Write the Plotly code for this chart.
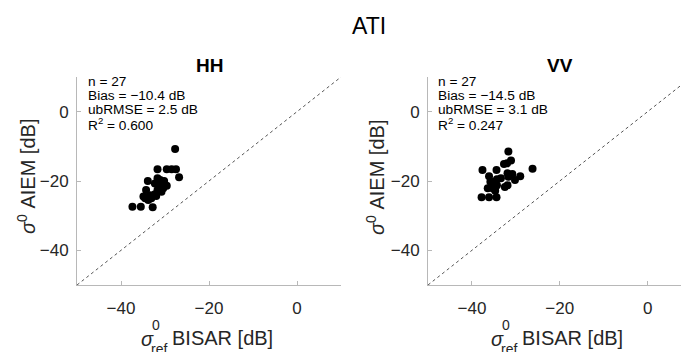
import plotly.graph_objects as go

# ---------------- data ----------------
hh_ref = [-27.7, -31.7, -29.6, -28.5, -27.5, -26.8, -33.9, -31.7, -30.2, -32.3, -31.1, -29.6, -34.3, -31.7,
          -30.8, -32.3, -33.4, -34.5, -33.8, -34.9, -37.4, -35.5, -32.8, -31.1, -30.4, -32.0, -33.1]
hh_aiem = [-10.8, -16.6, -16.6, -16.6, -16.6, -18.9, -20.0, -19.2, -20.0, -20.7, -21.2, -21.4, -22.6, -22.6,
           -23.1, -23.8, -24.1, -25.0, -25.5, -24.5, -27.4, -27.4, -27.6, -19.7, -22.1, -24.3, -25.0]
vv_ref = [-31.7, -31.1, -32.0, -32.7, -26.2, -37.6, -34.4, -31.9, -30.8, -36.1, -29.0, -31.7, -34.3, -30.2,
          -35.8, -34.9, -31.9, -32.5, -34.5, -34.3, -36.4, -35.3, -34.7, -37.8, -36.1, -34.4, -33.4]
vv_aiem = [-11.5, -14.1, -14.9, -15.1, -16.5, -16.8, -16.8, -17.8, -18.0, -18.6, -18.6, -18.8, -19.5, -19.7,
           -20.2, -20.2, -21.2, -21.7, -21.4, -21.2, -22.1, -22.1, -22.8, -24.7, -24.7, -24.7, -19.2]
one_to_one = [-50, 10]
tick_vals = [-40, -20, 0]
hh_stats = ["n = 27", "Bias = \u221210.4 dB", "ubRMSE = 2.5 dB", "R<sup>2</sup> = 0.600"]
vv_stats = ["n = 27", "Bias = \u221214.5 dB", "ubRMSE = 3.1 dB", "R<sup>2</sup> = 0.247"]

W, H = 681, 352
FONT = "Liberation Sans, Arial, sans-serif"


def px(x):
    return x / W


def py(y):
    return 1 - y / H


fig = go.Figure()
fig.add_trace(go.Scatter(x=one_to_one, y=one_to_one, mode="lines", xaxis="x", yaxis="y",
                         line=dict(color="#555555", width=1, dash="dot"), showlegend=False, hoverinfo="skip"))
fig.add_trace(go.Scatter(x=hh_ref, y=hh_aiem, mode="markers", xaxis="x", yaxis="y",
                         marker=dict(color="black", size=8, line=dict(width=0)), showlegend=False))
fig.add_trace(go.Scatter(x=one_to_one, y=one_to_one, mode="lines", xaxis="x2", yaxis="y2",
                         line=dict(color="#555555", width=1, dash="dot"), showlegend=False, hoverinfo="skip"))
fig.add_trace(go.Scatter(x=vv_ref, y=vv_aiem, mode="markers", xaxis="x2", yaxis="y2",
                         marker=dict(color="black", size=8, line=dict(width=0)), showlegend=False))

ax_common = dict(showgrid=False, zeroline=False, showline=True, linecolor="#b8b8b8", linewidth=1,
                 ticks="inside", ticklen=4, tickcolor="#b8b8b8", tickvals=tick_vals,
                 tickfont=dict(family=FONT, size=17, color="#262626"), mirror=False)

y_dom = [py(285), py(77)]
fig.update_layout(
    width=W, height=H, margin=dict(l=0, r=0, t=0, b=0),
    paper_bgcolor="white", plot_bgcolor="white",
    xaxis=dict(domain=[px(77), px(341)], range=[-50, 10], anchor="y", ticklabelstandoff=8, **ax_common),
    yaxis=dict(domain=y_dom, range=[-50, 10], anchor="x", ticklabelstandoff=4, **ax_common),
    xaxis2=dict(domain=[px(428), 1.0], range=[-50, 7.6], anchor="y2", ticklabelstandoff=8, **ax_common),
    yaxis2=dict(domain=y_dom, range=[-50, 10], anchor="x2", ticklabelstandoff=4, **ax_common),
)

ann = []


def text(x, y, t, size, **kw):
    d = dict(x=px(x), y=py(y), xref="paper", yref="paper", text=t, showarrow=False,
             font=dict(family=FONT, size=size, color=kw.pop("color", "black")),
             xanchor=kw.pop("xanchor", "center"), yanchor=kw.pop("yanchor", "middle"))
    d.update(kw)
    ann.append(d)


# overall title and panel titles
text(369, 26, "ATI", 23)
text(209, 65, "<b>HH</b>", 19)
text(560, 65, "<b>VV</b>", 19)

# statistics
for left, stats in ((86, hh_stats), (436, vv_stats)):
    for i, s in enumerate(stats):
        text(left, 81.5 + 14 * i, s, 13.7, xanchor="left")

# y-axis titles
for xc in (26, 375):
    text(xc, 177, "<i>\u03c3</i><sup>0</sup> AIEM [dB]", 20, textangle=-90, color="#262626")

# x-axis titles (stacked super/subscript)
for xc in (209, 559):
    s0 = xc - 70
    text(s0, 339, "<i>\u03c3</i>", 20, xanchor="left", color="#262626")
    text(s0 + 11, 325, "0", 14, xanchor="left", color="#262626")
    text(s0 + 10, 349, "ref", 14, xanchor="left", color="#262626")
    text(s0 + 31, 338, "BISAR [dB]", 20, xanchor="left", color="#262626")

fig.update_layout(annotations=ann)
fig.write_html("out.html", config={"displayModeBar": False},
               post_script="document.body.style.margin='0';document.body.style.overflow='hidden';")
